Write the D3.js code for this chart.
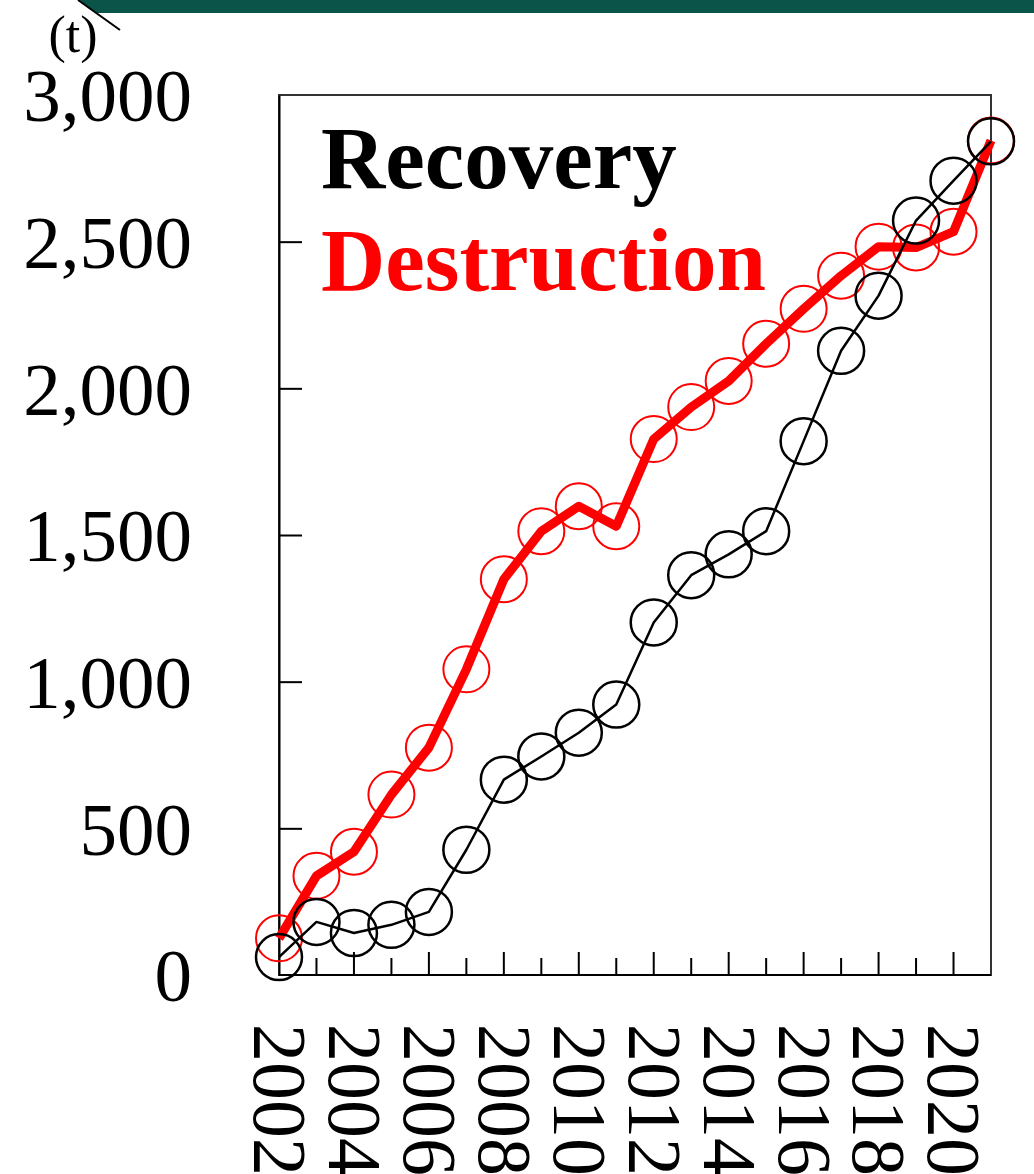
<!DOCTYPE html>
<html>
<head>
<meta charset="utf-8">
<script src="https://cdn.jsdelivr.net/npm/d3@7"></script>
<style>
  body { margin: 0; background: #fff; }
  svg { display: block; font-family: "Liberation Serif", "Times New Roman", serif; }
</style>
</head>
<body>
<svg id="chart" width="1034" height="1174"></svg>
<script>
var years = [2002, 2003, 2004, 2005, 2006, 2007, 2008, 2009, 2010, 2011,
	2012, 2013, 2014, 2015, 2016, 2017, 2018, 2019, 2020, 2021];
var recovery = [61, 181, 143, 171, 215, 427, 666, 745, 826, 922,
	1202, 1363, 1434, 1513, 1820, 2128, 2316, 2572, 2708, 2842];
var destruction = [125, 338, 420, 615, 775, 1042, 1349, 1513, 1598, 1530,
	1827, 1936, 2025, 2152, 2271, 2384, 2483, 2480, 2534, 2845];
var yTicks = [0, 500, 1000, 1500, 2000, 2500, 3000];
var xLabels = [2002, 2004, 2006, 2008, 2010, 2012, 2014, 2016, 2018, 2020];

var pLeft = 279, pRight = 991, pTop = 95, pBottom = 975;

var svg = d3.select("#chart");

// banner strip at the top
svg.append("polygon")
	.attr("points", "79,0 1034,0 1034,13 97,13")
	.attr("fill", "#0b5449");
svg.append("line")
	.attr("x1", 78).attr("y1", 0).attr("x2", 120).attr("y2", 30)
	.attr("stroke", "#000").attr("stroke-width", 2);

var x = d3.scaleLinear().domain([2002, 2021]).range([pLeft, pRight]);
var y = d3.scaleLinear().domain([0, 3000]).range([pBottom, pTop]);

// frame
svg.append("rect")
	.attr("x", pLeft).attr("y", pTop)
	.attr("width", pRight - pLeft).attr("height", pBottom - pTop)
	.attr("fill", "none").attr("stroke", "#333").attr("stroke-width", 2);

// y axis, ticks pointing inward (none at the top edge)
var yAxis = d3.axisRight(y)
	.tickValues(yTicks.slice(1, -1))
	.tickSize(23).tickSizeOuter(0).tickFormat("");
svg.append("g")
	.attr("class", "yAxis")
	.attr("transform", "translate(" + pLeft + ",0)")
	.call(yAxis)
	.call(function(g) {
		g.select(".domain").attr("stroke", "#000").attr("stroke-width", 2);
		g.selectAll(".tick line").attr("stroke", "#000").attr("stroke-width", 2);
	});

svg.append("g")
	.selectAll("text")
	.data(yTicks)
	.enter()
	.append("text")
	.attr("x", 192)
	.attr("y", function(d) { return y(d); })
	.attr("dy", "0.35em")
	.attr("text-anchor", "end")
	.attr("font-size", 75)
	.attr("fill", "#000")
	.text(d3.format(","));

svg.append("text")
	.attr("x", 73).attr("y", 52)
	.attr("text-anchor", "middle")
	.attr("font-size", 52)
	.text("(t)");

// x axis, ticks pointing up
var innerYears = years.slice(1, -1);
svg.append("g")
	.attr("class", "xAxis")
	.selectAll("line")
	.data(innerYears)
	.enter()
	.append("line")
	.attr("x1", function(d) { return x(d); })
	.attr("x2", function(d) { return x(d); })
	.attr("y1", pBottom)
	.attr("y2", function(d) { return d % 2 === 0 ? pBottom - 23 : pBottom - 17; })
	.attr("stroke", "#000").attr("stroke-width", 2);

svg.append("line")
	.attr("x1", pLeft).attr("x2", pRight).attr("y1", pBottom).attr("y2", pBottom)
	.attr("stroke", "#000").attr("stroke-width", 2);

svg.append("g")
	.selectAll("text")
	.data(xLabels)
	.enter()
	.append("text")
	.attr("transform", function(d) { return "translate(" + x(d) + ",1024) rotate(90)"; })
	.attr("dy", "0.33em")
	.attr("font-size", 76)
	.attr("fill", "#000")
	.text(function(d) { return d; });

var line = d3.line()
	.x(function(d, i) { return x(years[i]); })
	.y(function(d) { return y(d); });

function drawSeries(vals, color, lw, cw) {
	svg.append("path")
		.datum(vals)
		.attr("d", line)
		.attr("fill", "none")
		.attr("stroke", color)
		.attr("stroke-width", lw)
		.attr("stroke-linejoin", "round");
	svg.append("g")
		.selectAll("circle")
		.data(vals)
		.enter()
		.append("circle")
		.attr("cx", function(d, i) { return x(years[i]); })
		.attr("cy", function(d) { return y(d); })
		.attr("r", 23)
		.attr("fill", "none")
		.attr("stroke", color)
		.attr("stroke-width", cw);
}

drawSeries(destruction, "#ff0000", 9, 2);
drawSeries(recovery, "#000", 2.5, 2.5);

// legend
svg.append("text")
	.attr("x", 321).attr("y", 188)
	.attr("font-size", 89).attr("font-weight", "bold")
	.attr("fill", "#000")
	.text("Recovery");
svg.append("text")
	.attr("x", 321).attr("y", 290)
	.attr("font-size", 89).attr("font-weight", "bold")
	.attr("fill", "#ff0000")
	.text("Destruction");
</script>
</body>
</html>
